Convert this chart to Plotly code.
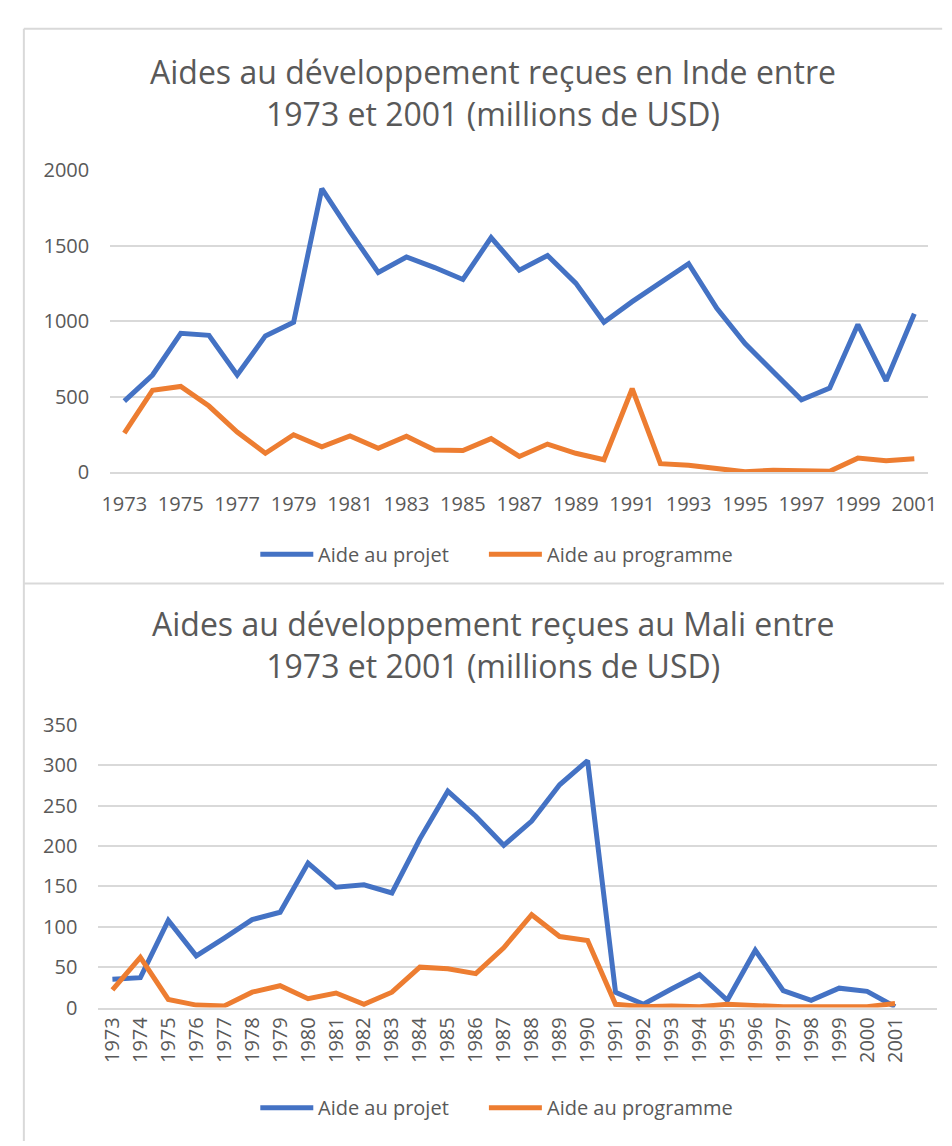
import plotly.graph_objects as go

# Données (millions de USD)
annees = list(range(1973, 2002))

inde_projet = [471, 644, 920, 907, 644, 903, 994, 1879, 1594, 1324,
               1426, 1356, 1277, 1555, 1339, 1436, 1253, 994, 1130, 1255,
               1382, 1086, 853, 665, 480, 557, 978, 605, 1050]
inde_programme = [259, 542, 568, 438, 266, 125, 248, 168, 240, 158,
                  238, 147, 143, 222, 104, 186, 125, 82, 553, 56,
                  45, 22, 2, 13, 6, 6, 93, 76, 89]

mali_projet = [35, 37, 108, 64, 86, 109, 118, 179, 149, 152,
               142, 209, 268, 237, 201, 231, 276, 306, 19, 4,
               23, 41, 9, 71, 21, 9, 24, 20, 1]
mali_programme = [22, 62, 10, 3, 2, 19, 27, 11, 18, 4,
                  19, 50, 48, 42, 74, 115, 88, 83, 4, 1,
                  2, 1, 4, 2, 1, 1, 1, 1, 5]

series = ["Aide au projet", "Aide au programme"]

BLEU = "#4472C4"
ORANGE = "#ED7D31"
GRIS_TEXTE = "#595959"
GRIS_GRILLE = "#D9D9D9"
POLICE = "Open Sans"

W, H = 952, 1146


def py(px):
    # pixel vertical (depuis le haut) -> coordonnée papier
    return 1 - px / H


fig = go.Figure()

fig.add_trace(go.Scatter(x=annees, y=inde_projet, name=series[0], mode="lines",
                         line=dict(color=BLEU, width=5), xaxis="x", yaxis="y"))
fig.add_trace(go.Scatter(x=annees, y=inde_programme, name=series[1], mode="lines",
                         line=dict(color=ORANGE, width=5), xaxis="x", yaxis="y"))
fig.add_trace(go.Scatter(x=annees, y=mali_projet, name=series[0], mode="lines",
                         line=dict(color=BLEU, width=5), xaxis="x2", yaxis="y2"))
fig.add_trace(go.Scatter(x=annees, y=mali_programme, name=series[1], mode="lines",
                         line=dict(color=ORANGE, width=5), xaxis="x2", yaxis="y2"))

tick_font = dict(family=POLICE, size=20, color=GRIS_TEXTE)

fig.update_layout(
    width=W, height=H,
    margin=dict(l=0, r=0, t=0, b=0),
    paper_bgcolor="white", plot_bgcolor="white",
    showlegend=False,
    xaxis=dict(domain=[95 / W, 929 / W], anchor="y", range=[1972.5, 2001.5],
               tickmode="linear", tick0=1973, dtick=2, showgrid=False,
               showline=True, linecolor=GRIS_GRILLE, linewidth=1.5,
               tickfont=tick_font, ticks="", ticklabelstandoff=13),
    yaxis=dict(domain=[py(461), py(152)], anchor="x", range=[0, 2000],
               tickmode="linear", tick0=0, dtick=500, gridcolor=GRIS_GRILLE, gridwidth=1.5,
               zeroline=False, tickfont=tick_font, ticklabelstandoff=20),
    xaxis2=dict(domain=[83 / W, 937.7 / W], anchor="y2", range=[1972.5, 2002.5],
                tickmode="array", tickvals=annees, ticktext=[str(a) for a in annees],
                tickangle=-90, showgrid=False,
                showline=True, linecolor=GRIS_GRILLE, linewidth=1.5,
                tickfont=tick_font, ticks="", ticklabelstandoff=0),
    yaxis2=dict(domain=[py(1009.3), py(720)], anchor="x2", range=[0, 350],
                tickmode="linear", tick0=0, dtick=50, gridcolor=GRIS_GRILLE, gridwidth=1.5,
                zeroline=False, tickfont=tick_font, ticklabelstandoff=20),
)

titre_font = dict(family=POLICE, size=32, color=GRIS_TEXTE)
fig.add_annotation(text="Aides au développement reçues en Inde entre<br>1973 et 2001 (millions de USD)",
                   xref="paper", yref="paper", x=0.51, y=py(72), xanchor="center", yanchor="middle",
                   showarrow=False, font=titre_font, align="center")
fig.add_annotation(text="Aides au développement reçues au Mali entre<br>1973 et 2001 (millions de USD)",
                   xref="paper", yref="paper", x=0.51, y=py(638), xanchor="center", yanchor="middle",
                   showarrow=False, font=titre_font, align="center")

# Légendes (une par graphique), dessinées comme chez Excel
legende_font = dict(family=POLICE, size=20, color=GRIS_TEXTE)
for y_leg in (545, 1112):
    for nom, couleur, x0 in zip(series, [BLEU, ORANGE], [248, 481]):
        fig.add_shape(type="line", xref="paper", yref="paper",
                      x0=x0 / W, x1=(x0 + 54) / W, y0=py(y_leg), y1=py(y_leg),
                      line=dict(color=couleur, width=5))
        fig.add_annotation(text=nom, xref="paper", yref="paper", x=(x0 + 57) / W, y=py(y_leg),
                           xanchor="left", yanchor="middle", showarrow=False, font=legende_font)

# Cadres des deux graphiques
cadre = dict(color=GRIS_GRILLE, width=2)
fig.add_shape(type="line", xref="paper", yref="paper", x0=7 / W, x1=943 / W, y0=py(7), y1=py(7), line=cadre)
fig.add_shape(type="line", xref="paper", yref="paper", x0=7 / W, x1=7 / W, y0=py(7), y1=0, line=cadre)
fig.add_shape(type="line", xref="paper", yref="paper", x0=7 / W, x1=1, y0=py(575), y1=py(575), line=cadre)

fig.write_html("out.html")
